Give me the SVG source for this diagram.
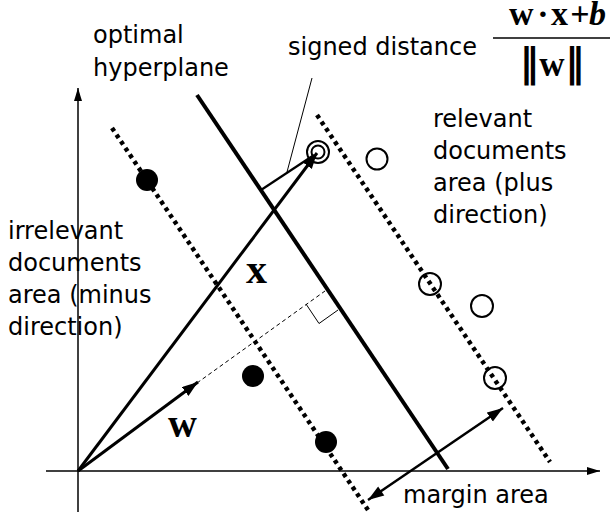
<svg xmlns="http://www.w3.org/2000/svg" width="610" height="516" viewBox="0 0 610 516">
<defs>
<style>
.lbl{font-family:"DejaVu Sans","Verdana","Liberation Sans",sans-serif;font-size:24px;fill:#000}
.math{font-family:"Liberation Serif","Times New Roman",serif;font-weight:bold;fill:#000}
.axis{stroke:#000;stroke-width:1.5;fill:none}
.dot{stroke:#000;stroke-width:4.5;stroke-dasharray:4 4;fill:none}
.vec{stroke:#000;stroke-width:3;fill:none}
</style>
<marker id="axh" markerWidth="14" markerHeight="10" refX="13" refY="4" orient="auto" markerUnits="userSpaceOnUse">
<path d="M0,0 L13,4 L0,8 z" fill="#000"/>
</marker>
<marker id="vh" markerWidth="18" markerHeight="12" refX="16" refY="5.5" orient="auto" markerUnits="userSpaceOnUse">
<path d="M0,0 L16,5.5 L0,11 z" fill="#000"/>
</marker>
<marker id="vhs" markerWidth="18" markerHeight="12" refX="0" refY="5.5" orient="auto" markerUnits="userSpaceOnUse">
<path d="M16,0 L0,5.5 L16,11 z" fill="#000"/>
</marker>
</defs>
<rect width="610" height="516" fill="#fff"/>

<g id="connectors">
<line id="y-axis" class="axis" x1="78" y1="512" x2="78" y2="88" marker-end="url(#axh)"/>
<line id="x-axis" class="axis" x1="46" y1="471" x2="600" y2="471" marker-end="url(#axh)"/>
<line id="hyperplane" x1="197" y1="95" x2="448" y2="469" stroke="#000" stroke-width="4"/>
<line id="minus-margin" class="dot" x1="112" y1="128" x2="368" y2="510"/>
<line id="plus-margin" class="dot" x1="317" y1="115" x2="550" y2="462"/>
<line id="normal-dashed" x1="197" y1="383" x2="325" y2="291" stroke="#000" stroke-width="1" stroke-dasharray="4 3"/>
<polyline id="right-angle" points="306,304 319,323.5 338,310" fill="none" stroke="#000" stroke-width="1"/>
<line id="distance" x1="261" y1="190" x2="314" y2="155" stroke="#000" stroke-width="2.2"/>
<line id="leader" x1="312" y1="78" x2="287" y2="172" stroke="#000" stroke-width="1"/>
<line id="vec-x" class="vec" x1="78" y1="471" x2="317" y2="153" marker-end="url(#vh)"/>
<line id="vec-w" class="vec" x1="78" y1="471" x2="198" y2="382" marker-end="url(#vh)"/>
<line id="margin-arrow" x1="368" y1="500" x2="503" y2="408" stroke="#000" stroke-width="2.5" marker-start="url(#vhs)" marker-end="url(#vh)"/>
</g>

<g id="irrelevant-points" fill="#000">
<circle cx="147" cy="180" r="11"/>
<circle cx="253" cy="376" r="11"/>
<circle cx="326" cy="442" r="11"/>
</g>

<g id="relevant-points" fill="none" stroke="#000" stroke-width="2">
<circle cx="377" cy="159" r="10.5"/>
<circle cx="430" cy="284" r="11"/>
<circle cx="482" cy="306" r="11"/>
<circle cx="495" cy="378" r="11"/>
<circle cx="318" cy="152" r="11"/>
<circle cx="318" cy="152" r="6.5"/>
</g>

<g id="label-hyperplane">
<text class="lbl" x="93" y="43">optimal</text>
<text class="lbl" x="93" y="76">hyperplane</text>
</g>
<g id="label-signed">
<text class="lbl" x="288" y="55">signed distance</text>
</g>
<g id="formula">
<text class="math" font-size="34" x="509" y="25">w</text>
<text class="math" font-size="34" x="543" y="25" text-anchor="middle" font-weight="normal">·</text>
<text class="math" font-size="34" x="551" y="25">x</text>
<text class="math" font-size="34" x="580" y="25" text-anchor="middle" font-weight="normal">+</text>
<text class="math" font-size="34" x="589" y="25" font-weight="normal" font-style="italic">b</text>
<line x1="493" y1="38" x2="610" y2="38" stroke="#000" stroke-width="1.5"/>
<text class="math" x="552" y="76" text-anchor="middle" font-weight="normal"><tspan font-size="40" font-family="DejaVu Serif, serif">‖</tspan><tspan font-weight="bold" font-size="35">w</tspan><tspan font-size="40" font-family="DejaVu Serif, serif">‖</tspan></text>
</g>
<g id="label-relevant">
<text class="lbl" x="433" y="127">relevant</text>
<text class="lbl" x="433" y="159">documents</text>
<text class="lbl" x="433" y="191">area (plus</text>
<text class="lbl" x="433" y="223">direction)</text>
</g>
<g id="label-irrelevant">
<text class="lbl" x="8" y="239">irrelevant</text>
<text class="lbl" x="8" y="271">documents</text>
<text class="lbl" x="8" y="303">area (minus</text>
<text class="lbl" x="8" y="335">direction)</text>
</g>
<g id="label-x"><text class="math" font-size="42" x="246" y="283">x</text></g>
<g id="label-w"><text class="math" font-size="40" x="168" y="437">w</text></g>
<g id="label-margin"><text class="lbl" x="403" y="503">margin area</text></g>
</svg>
